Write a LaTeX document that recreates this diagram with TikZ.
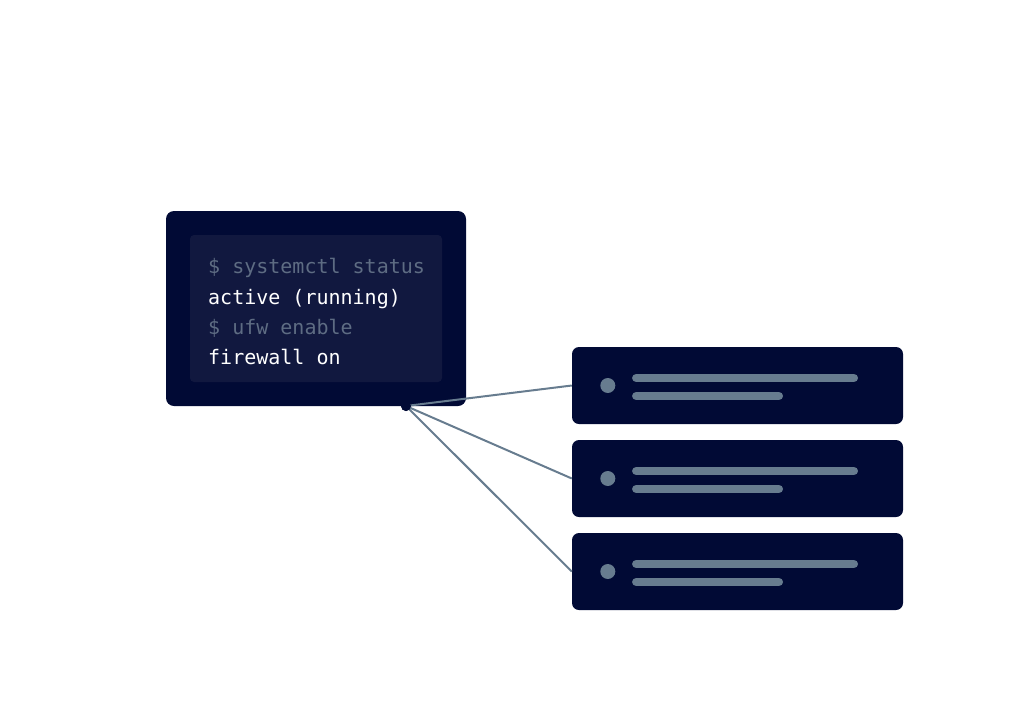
\documentclass[tikz,border=0pt]{standalone}
\usepackage{fontspec}
\setmonofont{DejaVu Sans Mono}
\usepackage{xcolor}
\usepackage{tikz}
\usetikzlibrary{positioning,calc}

\definecolor{navy}{HTML}{010A35}
\definecolor{panelbg}{HTML}{11183F}
\definecolor{slate}{HTML}{677C8F}
\definecolor{prompt}{HTML}{5E6C83}

\begin{document}
\begin{tikzpicture}[
		x=1pt, y=-1pt,
		term_box/.style={
			fill=navy, rounded corners=8pt,
			minimum width=300pt, minimum height=195pt,
			inner sep=0pt
		},
		panel_box/.style={
			fill=panelbg, rounded corners=4pt,
			minimum width=252pt, minimum height=147pt,
			inner sep=0pt
		},
		code_line/.style={
			anchor=base west, inner sep=0pt,
			font=\ttfamily\fontsize{20}{24}\selectfont
		},
		card/.style={
			fill=navy, rounded corners=7pt,
			minimum width=331pt, minimum height=77pt,
			inner sep=0pt
		},
		bar/.style={
			slate, line width=8.5pt, line cap=round
		},
		link/.style={
			slate, line width=2pt
		}
	]
	\useasboundingbox (0,0) rectangle (1024,723);
	
	% === TERMINAL ===
	\node[term_box] (term) at (316,308.5) {};
	\node[panel_box] (panel) at (316,308.5) {};
	\node[code_line, text=prompt] (l1) at (208,273) {\$ systemctl status};
	\node[code_line, text=white] (l2) at (208,304) {active (running)};
	\node[code_line, text=prompt] (l3) at (208,334) {\$ ufw enable};
	\node[code_line, text=white] (l4) at (208,364) {firewall on};
	
	% === CARDS ===
	\foreach \i in {1,2,3} {
		\node[card] (card\i) at (737.5, 292.5+93*\i) {};
		\fill[slate] ($(card\i.west)+(36,0)$) circle (7.5);
		\draw[bar] ($(card\i.west)+(64.5,-7.5)$) -- ++(217.5,0);
		\draw[bar] ($(card\i.west)+(64.5,10.5)$) -- ++(142.5,0);
	}
	
	% === CONNECTORS ===
	\node[circle, fill=navy, minimum size=10pt, inner sep=0pt] (hub) at (406,406) {};
	\foreach \i in {1,2,3} {
		\draw[link] (hub.center) -- (card\i.west);
	}
	\fill[navy] (hub.center) circle (5);
	
\end{tikzpicture}
\end{document}
